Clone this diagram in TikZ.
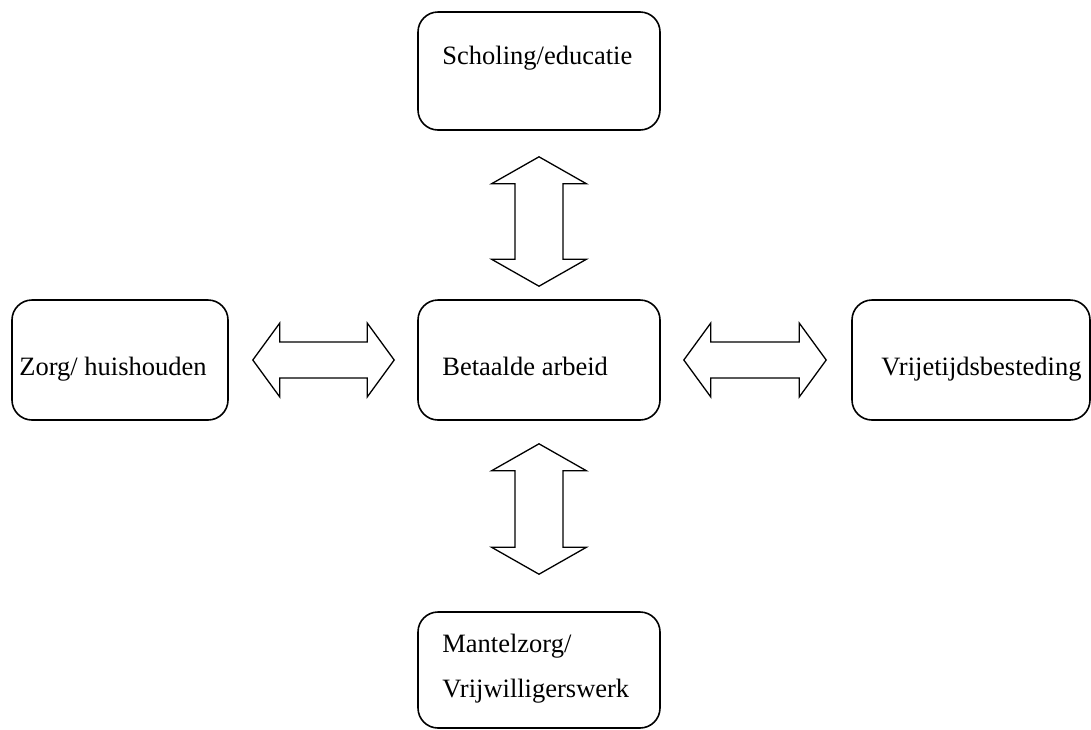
\documentclass[tikz,border=0pt]{standalone}
\usepackage{fontspec}
\setmainfont{Liberation Serif}
\usetikzlibrary{calc}
\tikzset{
  box/.style={draw=black, line width=1.6pt, rounded corners=20pt, inner sep=0pt, fill=white},
  lbl/.style={inner sep=0pt, font=\fontsize{26.5}{32}\selectfont},
  blockarrow/.style={draw=black, line width=1.3pt, line join=miter, fill=white},
}
\newcommand{\blockarrow}[4]{%
  \coordinate (ha) at ($(#1)!27pt!(#2)$);
  \coordinate (hb) at ($(#2)!27pt!(#1)$);
  \draw[blockarrow] (#1) -- ($(ha)!#3pt!90:(#2)$) -- ($(ha)!#4pt!90:(#2)$)
     -- ($(hb)!#4pt!-90:(#1)$) -- ($(hb)!#3pt!-90:(#1)$) -- (#2)
     -- ($(hb)!#3pt!90:(#1)$) -- ($(hb)!#4pt!90:(#1)$)
     -- ($(ha)!#4pt!-90:(#2)$) -- ($(ha)!#3pt!-90:(#2)$) -- cycle;
}
\begin{document}
\begin{tikzpicture}[x=1pt,y=-1pt]
\useasboundingbox (0,0) rectangle (1091,729);
% boxes
\node[box, minimum width=242pt, minimum height=118pt] (top) at (539,71) {};
\node[box, minimum width=242pt, minimum height=120pt] (mid) at (539,360) {};
\node[box, minimum width=216pt, minimum height=120pt] (lft) at (120,360) {};
\node[box, minimum width=238pt, minimum height=120pt] (rgt) at (971,360) {};
\node[box, minimum width=242pt, minimum height=116pt] (bot) at (539,670) {};
% texts
\node[lbl, anchor=base west] (topTxt) at ($(top.north west)+(25,53)$) {Scholing/educatie};
\node[lbl, anchor=base west] (midTxt) at ($(mid.north west)+(25,76)$) {Betaalde arbeid};
\node[lbl, anchor=base west] (lftTxt) at ($(lft.north west)+(8,76)$) {Zorg/ huishouden};
\node[lbl, anchor=base west] (rgtTxt) at ($(rgt.north west)+(30,76)$) {Vrijetijdsbesteding};
\node[lbl, anchor=base west] (botTxtA) at ($(bot.north west)+(25,41)$) {Mantelzorg/};
\node[lbl, anchor=base west] (botTxtB) at ($(bot.north west)+(25,86)$) {Vrijwilligerswerk};
% arrow end points
\coordinate (tA) at ($(top.south)+(0,26)$);
\coordinate (tB) at ($(mid.north)+(0,-13)$);
\coordinate (bA) at ($(mid.south)+(0,23)$);
\coordinate (bB) at ($(bot.north)+(0,-37)$);
\coordinate (lA) at ($(lft.east)+(24,0)$);
\coordinate (lB) at ($(mid.west)+(-23,0)$);
\coordinate (rA) at ($(mid.east)+(23,0)$);
\coordinate (rB) at ($(rgt.west)+(-25,0)$);
% block arrows
\blockarrow{tA}{tB}{47.5}{24}
\blockarrow{bA}{bB}{47.5}{24}
\blockarrow{lA}{lB}{37}{18}
\blockarrow{rA}{rB}{37}{18}
\end{tikzpicture}
\end{document}
